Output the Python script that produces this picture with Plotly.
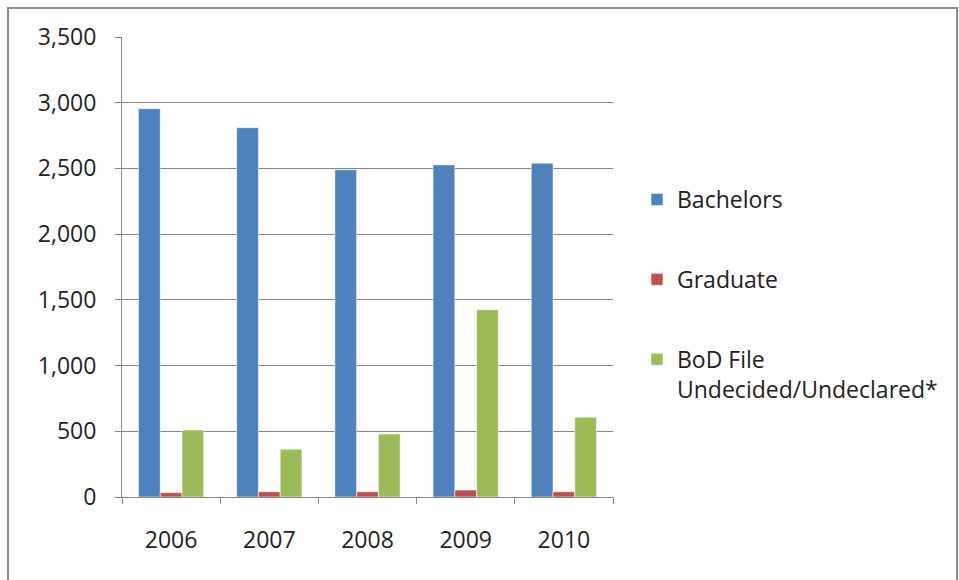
import plotly.graph_objects as go

years = ["2006", "2007", "2008", "2009", "2010"]
bachelors = [2955, 2810, 2490, 2527, 2540]
graduate = [33, 40, 40, 53, 40]
bod_file = [510, 363, 479, 1425, 606]
series_names = ["Bachelors", "Graduate", "BoD File<br>Undecided/Undeclared*"]
colors = ["#4F81BD", "#C0504D", "#9BBB59"]
tick_vals = [0, 500, 1000, 1500, 2000, 2500, 3000, 3500]

W, H = 959, 580
L, R, T, B = 122, 346, 37, 83
pw, ph = W - L - R, H - T - B

fig = go.Figure()
for i, (name, vals) in enumerate(zip(series_names, [bachelors, graduate, bod_file])):
    fig.add_trace(go.Bar(
        x=years, y=vals, name=name, legendgroup=str(i),
        marker=dict(color=colors[i], line=dict(color="rgba(255,255,255,0.55)", width=1)),
    ))

def px_x(p):
    return (p - L) / pw

def px_y(p):
    return (H - B - p) / ph

fig.add_shape(type="rect", xref="paper", yref="paper",
              x0=px_x(8), x1=px_x(957), y0=px_y(590), y1=px_y(8),
              line=dict(color="#8C8C8C", width=2), fillcolor="rgba(0,0,0,0)", layer="below")

FS = 23
fig.update_layout(
    width=W, height=H,
    margin=dict(l=L, r=R, t=T, b=B),
    paper_bgcolor="white", plot_bgcolor="white",
    barmode="group", bargap=0.335, bargroupgap=0,
    font=dict(family="'Open Sans', sans-serif", size=FS, color="#222222"),
    showlegend=True,
    legend=dict(x=px_x(637), y=px_y(178), xanchor="left", yanchor="top",
                tracegroupgap=47, font=dict(size=FS), itemwidth=30, valign="top",
                bgcolor="rgba(0,0,0,0)"),
    xaxis=dict(type="category", showline=True, linecolor="#878787", linewidth=1,
               ticks="outside", tickson="boundaries", ticklen=6, tickcolor="#878787",
               showgrid=False, tickfont=dict(size=FS), ticklabelstandoff=22),
    yaxis=dict(range=[0, 3500], tickvals=tick_vals, tickformat=",d",
               showline=True, linecolor="#878787", linewidth=1,
               ticks="outside", ticklen=6, tickcolor="#878787",
               showgrid=True, gridcolor="#878787", gridwidth=1,
               zeroline=False, tickfont=dict(size=FS), ticklabelstandoff=14),
)

fig.write_html("out.html", config={"displayModeBar": False},
               post_script="document.body.style.margin='0';")
